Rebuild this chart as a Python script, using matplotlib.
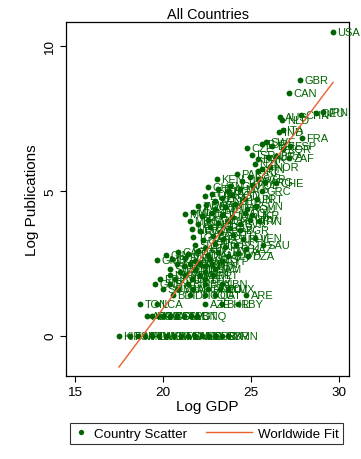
import numpy as np
import matplotlib
matplotlib.use("Agg")
import matplotlib.pyplot as plt
from matplotlib.lines import Line2D
from matplotlib.legend_handler import HandlerLine2D

plt.rcParams["font.family"] = ["Liberation Sans", "DejaVu Sans"]

GREEN = "#006400"
ORANGE = "#E8602C"

# country codes, log GDP and log publications
countries = [
    "USA", "GBR", "CAN", "JPN", "DEU", "CHN", "AUS", "NLD", "IND", "ITA", "FRA",
    "CZE", "TUR", "SWE", "BEL", "KOR", "ESP",
    "ISR", "DNK", "AUT", "BRA", "ZAF",
    "NZL", "FIN", "NOR", "IRL",
    "KEN", "PAK", "EGY", "THA", "SGP", "ARG", "CHE",
    "GHA", "NGA", "MYS", "POL", "GRC", "UGA", "TZA",
    "ETH", "CMR", "LKA", "BGD", "HUN", "PRT", "SEN",
    "ZWE", "BWA", "ZMB", "VNM", "PER", "ROU", "SVN",
    "MWI", "MLI", "BFA", "NPL", "TUN", "JOR", "COL", "UKR",
    "MDG", "BEN", "MOZ", "URY", "CRI", "SVK", "HRV", "IRN",
    "NER", "RWA", "PNG", "SRB", "CIV", "BGR",
    "TGO", "GAB", "BOL", "ECU", "LTU", "PHL", "VEN",
    "SLE", "HTI", "NIC", "PRY", "EST", "KAZ", "SAU",
    "GIN", "CAF", "MRT", "LAO", "NAM", "GTM", "SLV", "LVA", "DZA",
    "GMB", "GUY", "SUR", "ARM", "GEO", "CYP",
    "MNG", "KGZ", "ALB", "PAN",
    "TJK", "MKD",
    "SWZ", "MUS", "JAM",
    "FJI", "BHS",
    "LSO", "MDA", "ISL", "MLT",
    "ERI", "TCD", "BRB", "TTO",
    "GNB", "SYC", "BIH", "BRN", "LBN",
    "SOM", "YEM", "AFG", "HND", "TKM", "LUX",
    "BDI", "DJI", "COG", "QAT", "ARE",
    "TON", "LCA", "AZE", "BHR", "LBY",
    "ATG", "GRD", "KNA", "VCT", "COM", "STP", "SLB", "VUT", "GNQ",
    "KIR", "FSM", "MHL", "PLW", "TUV", "WSM", "KHM", "BTN", "MDV", "SMR",
    "AND", "LIE", "CUB", "PRK", "SYR", "OMN",
]
log_gdp = [
    29.66, 27.78, 27.16, 29.10, 28.70, 27.85, 26.65, 26.78, 26.62, 26.80, 27.90,
    24.77, 25.60, 25.85, 26.20, 26.80, 27.20,
    25.06, 25.40, 25.97, 26.40, 27.15,
    25.23, 25.63, 26.08, 25.40,
    23.07, 24.20, 24.94, 24.49, 25.40, 25.80, 26.42,
    22.56, 23.80, 24.38, 25.06, 25.63, 23.70, 23.10,
    22.39, 22.78, 23.35, 23.92, 24.66, 25.34, 22.95,
    21.99, 22.44, 22.95, 23.52, 24.09, 24.77, 25.28,
    21.25, 21.70, 22.22, 22.78, 23.35, 23.92, 24.66, 25.06,
    21.53, 21.99, 22.56, 23.13, 23.70, 24.38, 24.94, 25.45,
    21.65, 22.10, 22.67, 23.24, 23.80, 24.38,
    21.70, 22.27, 22.84, 23.41, 23.98, 24.55, 25.23,
    21.82, 22.39, 22.95, 23.52, 24.15, 24.72, 25.70,
    20.17, 20.85, 21.42, 21.99, 22.56, 23.13, 23.70, 24.26, 24.83,
    19.66, 20.51, 21.25, 21.82, 22.67, 23.35,
    20.80, 21.53, 22.10, 22.78,
    21.19, 22.39,
    20.40, 21.82, 22.95,
    20.97, 22.39,
    20.40, 21.25, 22.10, 22.84,
    19.83, 20.68, 21.65, 22.39,
    19.55, 20.40, 21.42, 22.39, 23.35,
    20.00, 20.85, 21.70, 22.56, 23.24, 23.70,
    20.57, 21.53, 22.39, 22.95, 24.72,
    18.70, 19.66, 22.40, 23.35, 24.26,
    19.10, 19.40, 19.70, 20.00, 20.40, 20.80, 21.20, 21.60, 21.95,
    17.50, 18.10, 18.60, 19.00, 19.40, 19.80, 20.20, 20.60, 21.00, 21.40,
    21.80, 22.20, 22.60, 23.00, 23.35, 23.70,
]
log_pub = [
    10.50, 8.82, 8.37, 7.73, 7.68, 7.62, 7.56, 7.44, 7.02, 7.09, 6.82,
    6.47, 6.61, 6.68, 6.54, 6.44, 6.54,
    6.23, 6.09, 6.16, 6.20, 6.12,
    5.92, 5.75, 5.82, 5.68,
    5.40, 5.57, 5.47, 5.33, 5.40, 5.29, 5.26,
    5.13, 5.16, 5.06, 5.20, 4.99, 4.99, 5.06,
    4.82, 4.88, 4.75, 4.85, 4.71, 4.71, 4.64,
    4.47, 4.50, 4.37, 4.43, 4.54, 4.37, 4.47,
    4.20, 4.26, 4.13, 4.23, 4.16, 4.09, 4.23, 4.16,
    3.95, 3.85, 3.99, 3.89, 3.95, 3.85, 3.99, 3.95,
    3.68, 3.61, 3.75, 3.58, 3.71, 3.64,
    3.40, 3.30, 3.44, 3.33, 3.47, 3.33, 3.37,
    3.13, 3.02, 3.16, 3.06, 3.13, 2.99, 3.13,
    2.78, 2.89, 2.82, 2.92, 2.78, 2.89, 2.75, 2.85, 2.75,
    2.61, 2.64, 2.68, 2.58, 2.64, 2.58,
    2.48, 2.48, 2.48, 2.48,
    2.40, 2.40,
    2.30, 2.30, 2.30,
    2.20, 2.20,
    2.08, 2.08, 2.08, 2.08,
    1.95, 1.95, 1.95, 1.95,
    1.79, 1.79, 1.79, 1.79, 1.79,
    1.61, 1.61, 1.61, 1.61, 1.61, 1.61,
    1.39, 1.39, 1.39, 1.39, 1.39,
    1.10, 1.10, 1.10, 1.10, 1.10,
    0.69, 0.69, 0.69, 0.69, 0.69, 0.69, 0.69, 0.69, 0.69,
    0.00, 0.00, 0.00, 0.00, 0.00, 0.00, 0.00, 0.00, 0.00, 0.00,
    0.00, 0.00, 0.00, 0.00, 0.00, 0.00,
]

# worldwide linear fit
fit_intercept = -15.22
fit_slope = 0.808

x_ticks = [15, 20, 25, 30]
y_ticks = [0, 5, 10]


class LongLine(HandlerLine2D):
    # stretch the fit line to the left of its handle box, as in the Stata legend
    def get_xdata(self, legend, xdescent, ydescent, width, height, fontsize):
        xdata, xm = super().get_xdata(legend, xdescent, ydescent, width, height, fontsize)
        return [xdata[0] - 2.45 * fontsize, xdata[-1]], xm


fig = plt.figure(figsize=(3.61, 4.60), dpi=100)
ax = fig.add_axes([0.1828, 0.1804, 0.784, 0.7696])

ax.plot(log_gdp, log_pub, "o", color=GREEN, ms=4.2, mew=0, zorder=2)
for c, x, y in zip(countries, log_gdp, log_pub):
    ax.annotate(c, (x, y), xytext=(3.3, 0), textcoords="offset points",
                ha="left", va="center", fontsize=8.0, color=GREEN, zorder=3)

xs = np.array([min(log_gdp), max(log_gdp)])
ax.plot(xs, fit_intercept + fit_slope * xs, color=ORANGE, lw=1.0, zorder=4)

ax.set_xlim(14.49, 30.57)
ax.set_ylim(-1.39, 10.83)
ax.set_xticks(x_ticks)
ax.set_yticks(y_ticks)
ax.tick_params(direction="out", length=4, width=0.8, labelsize=9.7, pad=3)
for lab in ax.get_yticklabels():
    lab.set_rotation(90)
    lab.set_va("center")
for s in ax.spines.values():
    s.set_linewidth(0.9)

ax.set_title("All Countries", fontsize=10.4, pad=3)
ax.set_xlabel("Log GDP", fontsize=11, labelpad=1)
ax.set_ylabel("Log Publications", fontsize=11, labelpad=4)

h1 = Line2D([], [], ls="", marker="o", color=GREEN, ms=3.8, mew=0)
h2 = Line2D([], [], color=ORANGE, lw=1.0)
fig.legend([h1, h2], ["Country Scatter", "Worldwide Fit"], loc="center",
           bbox_to_anchor=(0.572, 0.0554), ncol=2, fontsize=9.6,
           handlelength=1.0, handletextpad=0.45, columnspacing=3.9,
           borderpad=0.35, frameon=True, fancybox=False, edgecolor="black",
           handler_map={h2: LongLine()}).get_frame().set_linewidth(0.8)

fig.savefig("out.png", dpi=100)
